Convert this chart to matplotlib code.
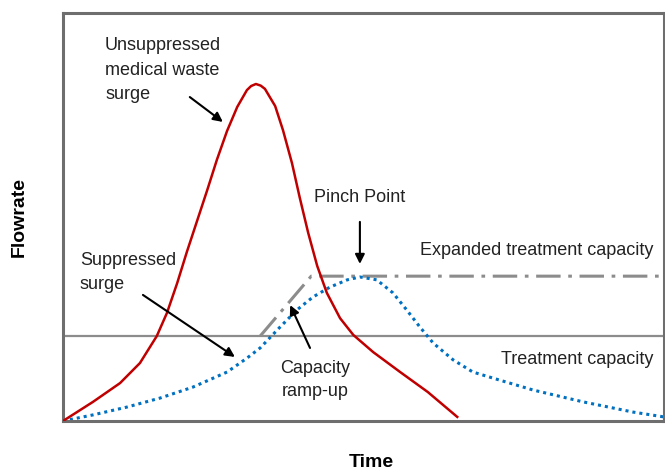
import matplotlib.pyplot as plt

plt.rcParams['font.family'] = ['Liberation Sans', 'DejaVu Sans']

# Unsuppressed medical waste surge (0-100 scale)
red_x = [0, 5.0, 9.5, 12.8, 15.6, 17.3, 19.0, 20.6, 22.3, 24.0, 25.6, 27.3,
         29.0, 30.6, 31.3, 32.1, 32.9, 33.6, 35.3, 36.6, 38.1, 39.4, 40.8,
         42.3, 43.9, 46.1, 48.3, 51.6, 56.1, 60.7, 65.6]
red_y = [0, 4.7, 9.3, 14.2, 20.8, 26.5, 33.8, 41.4, 49.0, 56.6, 64.0, 71.1,
         77.0, 81.1, 82.1, 82.6, 82.2, 81.4, 77.2, 71.3, 63.2, 54.7, 46.1,
         38.0, 31.4, 25.2, 21.1, 16.9, 12.0, 7.1, 1.0]

# Suppressed surge
blue_x = [0, 5.0, 10.6, 16.1, 21.6, 27.3, 30.6, 32.8, 36.1, 38.9, 41.6, 44.4,
          47.3, 49.4, 52.2, 54.9, 57.2, 59.4, 61.6, 64.9, 68.2, 72.7, 78.2,
          86.5, 94.8, 100]
blue_y = [0, 1.5, 3.4, 5.6, 8.3, 12.0, 15.4, 17.9, 23.0, 27.2, 30.4, 32.8,
          34.6, 35.3, 34.6, 31.4, 27.2, 23.0, 19.1, 15.0, 12.0, 10.0, 7.6,
          4.7, 2.2, 1.0]

capacity = 20.8
expanded = 35.5
ramp_x = [32.8, 41.3, 100]
ramp_y = [capacity, expanded, expanded]

fig = plt.figure(figsize=(6.65, 4.7), dpi=100)
ax = fig.add_axes([63 / 665, 1 - 421 / 470, 601 / 665, 408 / 470])

ax.axhline(capacity, color='#8c8c8c', lw=1.6, zorder=1)
ax.plot(ramp_x, ramp_y, color='#8c8c8c', lw=2.2, linestyle=(0, (8, 2.5, 1.2, 2.5)), zorder=1)
ax.plot(red_x, red_y, color='#c00000', lw=1.8, zorder=3, solid_joinstyle='round')
ax.plot(blue_x, blue_y, color='#0070c0', lw=2.2, linestyle=(0, (1, 1.3)), zorder=2)

ax.set_xlim(0, 100)
ax.set_ylim(0, 100)
ax.set_xticks([])
ax.set_yticks([])
for sp in ax.spines.values():
    sp.set_color('#6e6e6e')
    sp.set_linewidth(2.2)

fs = 13
ax.text(7.0, 86.0, 'Unsuppressed\nmedical waste\nsurge', fontsize=fs, ha='left',
        va='center', linespacing=1.55, color='#222222')
ax.text(2.8, 36.5, 'Suppressed\nsurge', fontsize=fs, ha='left', va='center',
        linespacing=1.55, color='#222222')
ax.text(49.4, 54.7, 'Pinch Point', fontsize=fs, ha='center', va='center', color='#222222')
ax.text(98.2, 41.9, 'Expanded treatment capacity', fontsize=fs, ha='right',
        va='center', color='#222222')
ax.text(98.2, 15.0, 'Treatment capacity', fontsize=fs, ha='right', va='center',
        color='#222222')
ax.text(41.9, 10.0, 'Capacity\nramp-up', fontsize=fs, ha='center', va='center',
        linespacing=1.42, color='#222222')

arrow = dict(arrowstyle='-|>', color='black', lw=1.5, mutation_scale=14,
             shrinkA=0, shrinkB=0)
ax.annotate('', xy=(26.6, 73.3), xytext=(21.1, 79.4), arrowprops=arrow)
ax.annotate('', xy=(28.6, 15.7), xytext=(13.3, 30.9), arrowprops=arrow)
ax.annotate('', xy=(37.8, 28.4), xytext=(41.1, 17.9), arrowprops=arrow)
ax.annotate('', xy=(49.4, 38.5), xytext=(49.4, 48.8), arrowprops=arrow)

fig.text(19 / 665, 1 - 217 / 470, 'Flowrate', rotation=90, fontsize=14,
         fontweight='bold', ha='center', va='center')
fig.text(371 / 665, 1 - 467 / 470, 'Time', fontsize=14, fontweight='bold',
         ha='center', va='baseline')

fig.savefig('out.png', dpi=100)
